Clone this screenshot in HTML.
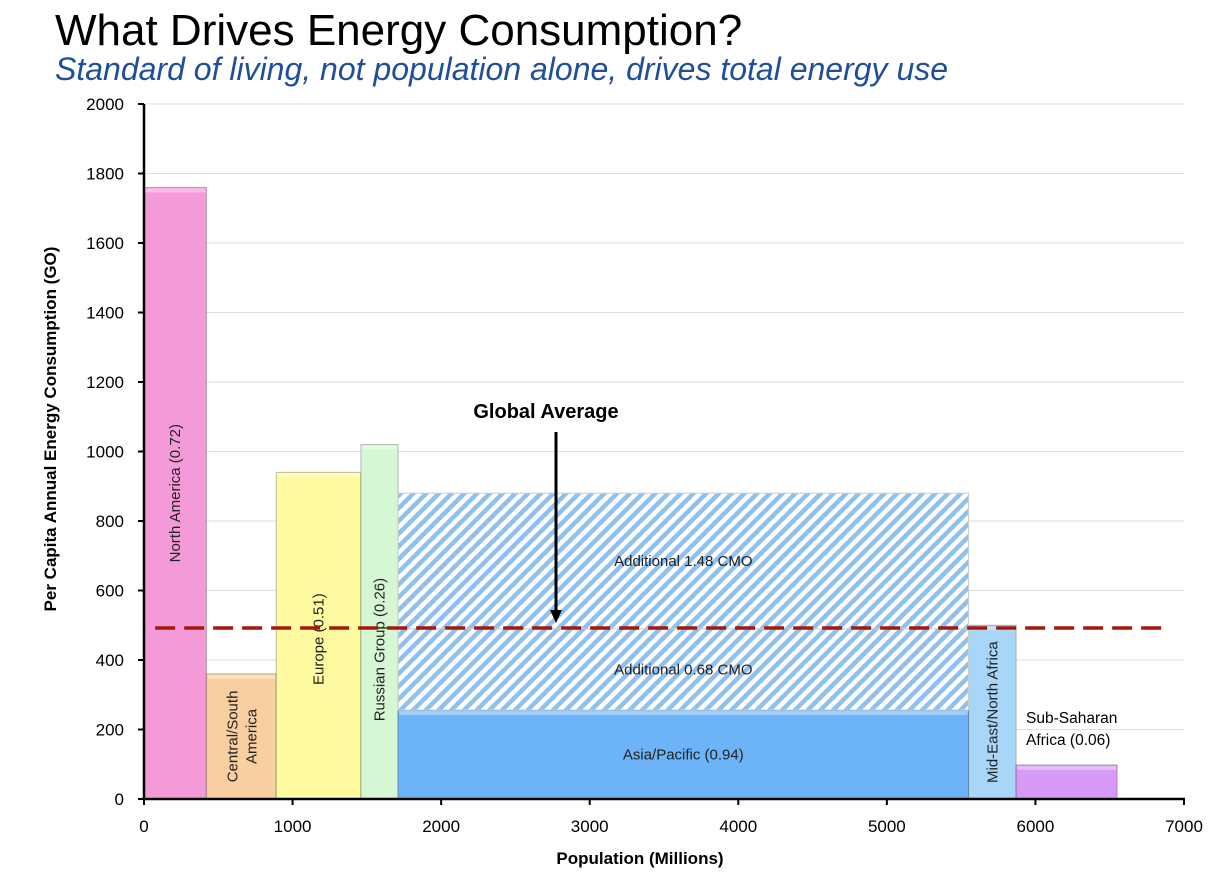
<!DOCTYPE html>
<html><head><meta charset="utf-8"><style>
body{margin:0;background:#fff;width:1224px;height:872px;overflow:hidden;font-family:"Liberation Sans",sans-serif}
</style></head><body>
<svg width="1224" height="872">
<defs>
<pattern id="hatch" width="9" height="9" patternUnits="userSpaceOnUse" patternTransform="rotate(45)">
<rect width="9" height="9" fill="#fff"/><rect width="4.5" height="9" fill="#8fc0ee"/>
</pattern>
</defs>
<text x="55" y="45" font-size="44" fill="#000">What Drives Energy Consumption?</text>
<text x="55" y="80" font-size="32" font-style="italic" fill="#1f4e9a">Standard of living, not population alone, drives total energy use</text>
<g id="grid"></g><g id="bars"></g><g id="axes"></g>
<text x="640" y="864" font-size="17" font-weight="bold" text-anchor="middle">Population (Millions)</text>
<text transform="translate(56,429) rotate(-90)" font-size="17" font-weight="bold" text-anchor="middle">Per Capita Annual Energy Consumption (GO)</text>
<text x="546" y="418" font-size="20" font-weight="bold" text-anchor="middle">Global Average</text>
<line x1="556" y1="432" x2="556" y2="612" stroke="#000" stroke-width="3"/>
<polygon points="550,610 562,610 556,623" fill="#000"/>
<text x="1026" y="723" font-size="15.5">Sub-Saharan</text>
<text x="1026" y="745" font-size="15.5">Africa (0.06)</text>
</svg>
<script>
const yTicks=[0,200,400,600,800,1000,1200,1400,1600,1800,2000];
const xTicks=[0,1000,2000,3000,4000,5000,6000,7000];
const regionNames=["North America (0.72)","Central/South America","Europe (0.51)","Russian Group (0.26)","Asia/Pacific (0.94)","Mid-East/North Africa","Sub-Saharan"];
const regionStart=[0,420,890,1460,1710,5550,5870];
const regionEnd=[420,890,1460,1710,5550,5870,6550];
const regionValue=[1760,360,940,1020,256,500,98];
const regionColors=["#f59ad9","#f8cfa0","#fdfaa0","#d6f7d4","#6cb4f7","#a8d6f8","#d79af7"];
const hatchNames=["Additional 0.68 CMO","Additional 1.48 CMO"];
const hatchLow=[256,490];
const hatchHigh=[490,880];
const globalAverage=492;
const avgStart=75, avgEnd=6860;
const X=v=>144+v*(1184-144)/7000;
const Y=v=>799-v*(799-104)/2000;
const NS="http://www.w3.org/2000/svg";
function mk(p,t,a){const e=document.createElementNS(NS,t);for(const k in a)e.setAttribute(k,a[k]);p.appendChild(e);return e;}
const grid=document.getElementById('grid'),bars=document.getElementById('bars'),axes=document.getElementById('axes');
yTicks.forEach(t=>{
 if(t>0){const l=mk(grid,'line',{x1:144,x2:1184,y1:Y(t),y2:Y(t),stroke:'#ddd','stroke-width':1});
 
 }
 const tx=mk(axes,'text',{x:124,y:Y(t)+6,'font-size':17,'text-anchor':'end'});tx.textContent=t;
 
 
 mk(axes,'line',{x1:138,x2:144,y1:Y(t),y2:Y(t),stroke:'#000','stroke-width':2});
});
xTicks.forEach(t=>{
 const tx=mk(axes,'text',{x:X(t),y:832,'font-size':17,'text-anchor':'middle'});tx.textContent=t;
 
 
 mk(axes,'line',{x1:X(t),x2:X(t),y1:799,y2:805,stroke:'#000','stroke-width':2});
});
regionNames.forEach((n,i)=>{
 const x0=X(regionStart[i]),x1=X(regionEnd[i]),y=Y(regionValue[i]);
 const r=mk(bars,'rect',{x:x0,y:y,width:x1-x0,height:799-y,fill:regionColors[i],stroke:'rgba(0,0,0,0.25)','stroke-width':1});
 
 
 mk(bars,'rect',{x:x0+1,y:y+1,width:x1-x0-2,height:4,fill:'rgba(255,255,255,0.35)'});
});
hatchNames.forEach((n,i)=>{
 const x0=X(regionStart[4]),x1=X(regionEnd[4]),y0=Y(hatchHigh[i]),y1=Y(hatchLow[i]);
 const r=mk(bars,'rect',{x:x0,y:y0,width:x1-x0,height:y1-y0,fill:'url(#hatch)',stroke:'#ccc','stroke-width':1});
 
 
 const t=mk(bars,'text',{x:(x0+x1)/2,y:(y0+y1)/2+5,'font-size':15,'text-anchor':'middle',fill:'#222'});t.textContent=n;
 
 
});
function vlabel(i,lines,cx,cy){
 const t=mk(bars,'text',{transform:`translate(${cx},${cy}) rotate(-90)`,'font-size':15,'text-anchor':'middle',fill:'#222'});
 
 
 lines.forEach((s,k)=>{const ts=mk(t,'tspan',{x:0,dy:k?19:0});ts.textContent=s;});
}
const mid=i=>(X(regionStart[i])+X(regionEnd[i]))/2;
vlabel(0,["North America (0.72)"],mid(0)+5,Y(880));
vlabel(1,["Central/South","America"],mid(1)-4,Y(180));
vlabel(2,["Europe (0.51)"],mid(2)+5,Y(460));
vlabel(3,["Russian Group (0.26)"],mid(3)+5,Y(430));
const ap=mk(bars,'text',{x:mid(4),y:Y(128)+5,'font-size':15,'text-anchor':'middle',fill:'#222'});ap.textContent="Asia/Pacific (0.94)";


vlabel(5,["Mid-East/North Africa"],mid(5)+5,Y(250));
const avg=mk(bars,'line',{x1:X(avgStart),x2:X(avgEnd),y1:Y(globalAverage),y2:Y(globalAverage),stroke:'#a31a0c','stroke-width':3.5,'stroke-dasharray':'20 9'});


mk(axes,'line',{x1:144,x2:144,y1:104,y2:800,stroke:'#000','stroke-width':2.5});
mk(axes,'line',{x1:143,x2:1185,y1:799,y2:799,stroke:'#000','stroke-width':2.5});
</script>
</body></html>
